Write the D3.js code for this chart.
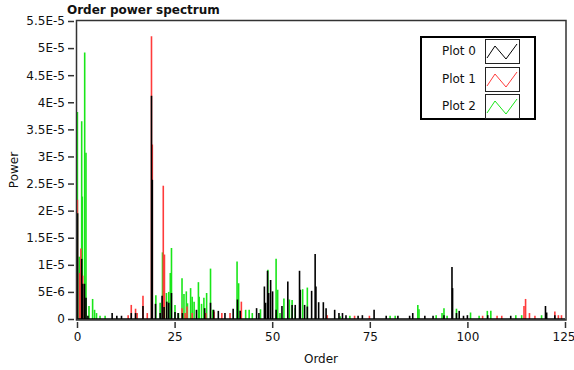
<!DOCTYPE html>
<html lang="en">
<head>
<meta charset="utf-8">
<title>Order power spectrum</title>
<script src="https://cdn.jsdelivr.net/npm/d3@7"></script>
<style>
  body { margin: 0; background: #fff; font-family: 'DejaVu Sans', sans-serif; }
  svg text { fill: #111; }
</style>
</head>
<body>
<div id="chart"></div>
<script>

/* Data */
/* ==== */

// [order, power] peaks
var plot0 = [
  [0.15, 1.95e-5], [1.2, 1.11e-5], [1.46, 6.5e-6], [1.92, 6.5e-6], [2.3, 3.9e-6], [2.8, 6e-7],
  [9.0, 1.1e-6], [10.2, 6e-7], [11.4, 6e-7], [13.9, 1.1e-6], [15.0, 1.1e-6], [16.9, 2.4e-6],
  [19.08, 4.12e-5], [19.29, 2.57e-5], [20.1, 2.8e-6], [21.3, 1.1e-6], [21.8, 4.3e-6], [22.3, 2.2e-6],
  [23.0, 3.2e-6], [23.5, 3.0e-6], [24.2, 4.8e-6], [25.1, 1.3e-6], [25.9, 1.1e-6], [27.0, 1.1e-6],
  [30.6, 1.7e-6], [32.7, 2.0e-6], [34.2, 3.0e-6], [35.0, 1.7e-6], [36.2, 1.5e-6], [37.9, 1.1e-6],
  [40.0, 1.9e-6], [41.1, 3.6e-6], [41.8, 1.5e-6], [46.0, 2.0e-6], [46.6, 1.1e-6], [48.0, 6.0e-6],
  [48.3, 3.0e-6], [48.8, 8.9e-6], [49.1, 4.8e-6], [49.6, 7.2e-6], [50.1, 5.1e-6], [51.0, 1.7e-6],
  [52.5, 2.4e-6], [54.0, 6.9e-6], [55.1, 2.6e-6], [55.9, 2.6e-6], [57.0, 8.9e-6], [57.2, 5.4e-6],
  [58.3, 2.6e-6], [59.0, 2.3e-6], [60.1, 5.2e-6], [61.0, 1.2e-5], [61.2, 6.0e-6], [61.9, 3.1e-6],
  [63.1, 3.1e-6], [63.8, 2.0e-6], [66.0, 1.7e-6], [67.1, 1.1e-6], [68.0, 1.1e-6], [68.9, 7e-7],
  [72.0, 6e-7], [73.1, 7e-7], [76.1, 1.7e-6], [79.2, 6e-7], [82.2, 6e-7], [85.2, 6e-7],
  [86.0, 1.1e-6], [89.1, 6e-7], [91.2, 6e-7], [94.0, 7e-7], [96.05, 9.6e-6], [96.2, 5.7e-6],
  [97.2, 1.1e-6], [97.9, 1.5e-6], [99.0, 6e-7], [100.0, 7e-7], [105.2, 7e-7], [111.1, 6e-7],
  [120.0, 2.4e-6], [120.3, 1.2e-6], [122.4, 7e-7]
];

var plot1 = [
  [0.1, 2.2e-5], [0.7, 8.5e-6], [1.0, 1.3e-5], [1.46, 8.0e-6], [13.1, 7e-7], [13.9, 2.6e-6],
  [15.0, 1.9e-6], [15.4, 1.1e-6], [16.9, 4.3e-6], [18.0, 1.1e-6], [19.08, 5.22e-5], [19.29, 3.22e-5],
  [22.1, 2.46e-5], [22.4, 1.19e-5], [26.9, 2.0e-6], [27.7, 1.1e-6], [28.2, 2.3e-6], [29.5, 1.1e-6],
  [33.0, 1.1e-6], [35.1, 1.4e-6], [37.1, 1.1e-6], [39.2, 1.1e-6], [42.1, 3.2e-6], [64.1, 7e-7],
  [71.1, 6e-7], [74.9, 6e-7], [103.9, 6e-7], [107.6, 6e-7], [108.8, 6e-7], [114.5, 2.4e-6],
  [114.9, 3.7e-6], [115.9, 1.1e-6], [117.3, 6e-7], [122.4, 1.4e-6], [123.3, 7e-7], [124.1, 7e-7]
];

var plot2 = [
  [0.1, 3.82e-5], [0.6, 1.15e-5], [1.2, 3.65e-5], [1.36, 2.26e-5], [1.97, 4.92e-5], [2.3, 3.07e-5],
  [3.07, 2.4e-6], [4.0, 3.7e-6], [4.5, 1.7e-6], [5.0, 1.1e-6], [5.9, 6e-7], [7.2, 6e-7],
  [20.2, 4.4e-6], [21.3, 3.0e-6], [21.9, 1.23e-5], [22.9, 4.8e-6], [23.5, 5.0e-6], [23.9, 8.5e-6],
  [24.2, 1.31e-5], [25.1, 2.6e-6], [26.0, 1.1e-6], [26.9, 7.5e-6], [27.4, 4.6e-6], [28.0, 5.1e-6],
  [28.3, 2.9e-6], [29.1, 5.7e-6], [29.5, 4.1e-6], [30.0, 3.2e-6], [31.1, 6.8e-6], [31.3, 4.1e-6],
  [31.9, 2.8e-6], [32.5, 3.9e-6], [33.2, 4.8e-6], [34.2, 9.3e-6], [34.8, 1.7e-6], [41.0, 1.06e-5],
  [41.4, 6.6e-6], [43.2, 1.7e-6], [44.1, 1.7e-6], [44.9, 1.1e-6], [47.0, 1.8e-6], [48.9, 9.1e-6],
  [51.0, 1.11e-5], [51.4, 5.4e-6], [52.0, 1.1e-6], [53.0, 3.8e-6], [54.4, 3.6e-6], [55.1, 3.5e-6],
  [55.9, 2.0e-6], [57.8, 5.5e-6], [59.0, 5.8e-6], [67.4, 5e-7], [69.9, 6e-7], [80.2, 6e-7],
  [81.5, 6e-7], [87.3, 2.6e-6], [87.6, 1.8e-6], [92.0, 7e-7], [93.5, 1.1e-6], [94.0, 2.0e-6],
  [94.8, 6e-7], [97.2, 1.9e-6], [100.8, 1.2e-6], [103.0, 6e-7], [105.1, 1.5e-6], [106.0, 1.5e-6],
  [112.4, 7e-7], [113.9, 7e-7], [119.0, 7e-7]
];

var seriesNames = ['Plot 0', 'Plot 1', 'Plot 2'];
var seriesColors = ['#000000', '#ff3b3b', '#19e619'];

var xTicks = [0, 25, 50, 75, 100, 125];
var yTicks = [0, 5e-6, 1e-5, 1.5e-5, 2e-5, 2.5e-5, 3e-5, 3.5e-5, 4e-5, 4.5e-5, 5e-5, 5.5e-5];
var yTickLabels = ['0', '5E-6', '1E-5', '1.5E-5', '2E-5', '2.5E-5', '3E-5', '3.5E-5', '4E-5', '4.5E-5', '5E-5', '5.5E-5'];


/* Setup */
/* ===== */

var width = 574,
    height = 370,
    plot = { left: 77, right: 565, top: 21, bottom: 319 };

var svg = d3.select('#chart').append('svg')
    .attr('width', width)
    .attr('height', height);

var x = d3.scaleLinear().domain([0, 125]).range([plot.left, plot.right]);
var y = d3.scaleLinear().domain([0, 5.5e-5]).range([plot.bottom, plot.top]);

svg.append('clipPath').attr('id', 'clip')
  .append('rect')
    .attr('x', plot.left).attr('y', plot.top)
    .attr('width', plot.right - plot.left).attr('height', plot.bottom - plot.top + 1);


/* Spikes */
/* ====== */

// green first, red over it, black on top
var layers = [plot2, plot1, plot0];
var layerColors = [seriesColors[2], seriesColors[1], seriesColors[0]];

var spikes = svg.append('g').attr('clip-path', 'url(#clip)');

layers.forEach(function(data, i) {
  spikes.append('g')
    .selectAll('line')
    .data(data)
    .join('line')
      .attr('x1', function(d) { return x(d[0]); })
      .attr('x2', function(d) { return x(d[0]); })
      .attr('y1', y(0))
      .attr('y2', function(d) { return y(d[1]); })
      .attr('stroke', layerColors[i])
      .attr('stroke-width', 1.6);
});

// baseline
svg.append('line')
    .attr('x1', plot.left).attr('x2', plot.right)
    .attr('y1', y(0)).attr('y2', y(0))
    .attr('stroke', '#000').attr('stroke-width', 1.5);

// plot frame
svg.append('rect')
    .attr('x', plot.left - 0.5).attr('y', plot.top - 0.5)
    .attr('width', plot.right - plot.left + 1.5).attr('height', plot.bottom - plot.top + 1.5)
    .attr('fill', 'none')
    .attr('stroke', '#333')
    .attr('stroke-width', 1.5);


/* Axes */
/* ==== */

var yAxis = d3.axisLeft(y)
    .tickValues(yTicks)
    .tickFormat(function(d, i) { return yTickLabels[i]; })
    .tickSize(6)
    .tickPadding(3);

var gy = svg.append('g')
    .attr('transform', 'translate(' + (plot.left - 3) + ',0)')
    .call(yAxis);

var xAxis = d3.axisBottom(x)
    .tickValues(xTicks)
    .tickSize(6)
    .tickPadding(4);

var gx = svg.append('g')
    .attr('transform', 'translate(0,' + (plot.bottom + 3) + ')')
    .call(xAxis);

[gx, gy].forEach(function(g) {
  g.select('.domain').remove();
  g.selectAll('.tick line').attr('stroke', '#333').attr('stroke-width', 1.5);
  g.selectAll('.tick text')
    .attr('font-family', "'DejaVu Sans', sans-serif")
    .attr('font-size', 12)
    .attr('fill', '#111');
});

// keep the last x label inside the window
gx.selectAll('.tick text')
    .filter(function(d) { return d === 125; })
    .attr('text-anchor', 'end')
    .attr('dx', 10);

// Axis titles
svg.append('text')
    .attr('x', (plot.left + plot.right) / 2)
    .attr('y', 363)
    .attr('text-anchor', 'middle')
    .attr('font-size', 12)
    .text('Order');

svg.append('text')
    .attr('transform', 'translate(18,' + ((plot.top + plot.bottom) / 2) + ') rotate(-90)')
    .attr('text-anchor', 'middle')
    .attr('font-size', 12)
    .text('Power');

// Chart title
svg.append('text')
    .attr('x', 67)
    .attr('y', 14)
    .attr('font-size', 12)
    .attr('font-weight', 'bold')
    .text('Order power spectrum');


/* Legend */
/* ====== */

var legend = svg.append('g');

legend.append('rect')
    .attr('x', 421).attr('y', 37)
    .attr('width', 114).attr('height', 82)
    .attr('fill', '#fff')
    .attr('stroke', '#000')
    .attr('stroke-width', 2);

var swatchTop = [39, 67, 94];
var zig = [[2, 16], [10, 4], [21, 17], [32, 2]];

seriesNames.forEach(function(name, i) {
  legend.append('text')
      .attr('x', 476)
      .attr('y', swatchTop[i] + 12)
      .attr('dy', '0.35em')
      .attr('text-anchor', 'end')
      .attr('font-size', 12)
      .text(name);

  legend.append('rect')
      .attr('x', 485.5).attr('y', swatchTop[i] + 0.5)
      .attr('width', 34).attr('height', 24)
      .attr('fill', '#fff')
      .attr('stroke', '#222');

  legend.append('path')
      .attr('d', d3.line()(zig.map(function(p) { return [485 + p[0], swatchTop[i] + 3 + p[1]]; })))
      .attr('fill', 'none')
      .attr('stroke', seriesColors[i])
      .attr('stroke-width', 1);
});

</script>
</body>
</html>
